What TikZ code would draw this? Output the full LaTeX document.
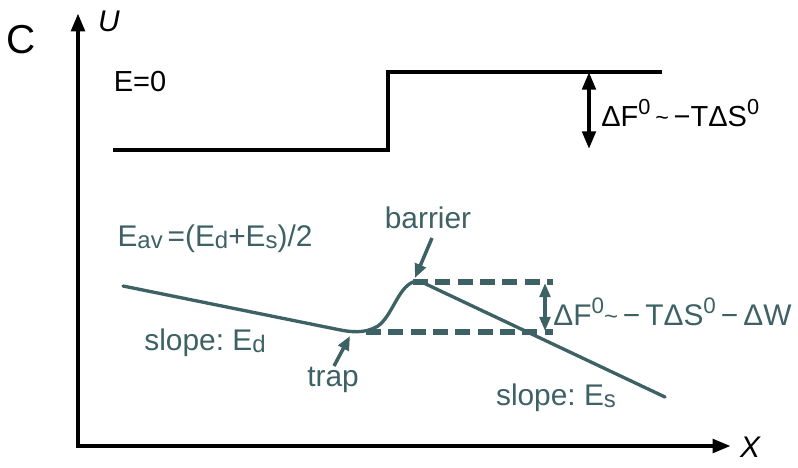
\documentclass[tikz,border=0pt]{standalone}
\usepackage{fontspec}
\usepackage{graphicx}
\setmainfont{Liberation Sans}
\usetikzlibrary{arrows.meta}
\definecolor{curveTeal}{HTML}{3D6165}
\newcommand{\lowidx}[1]{\raisebox{-0.1ex}{\scalebox{0.8}{#1}}}
\newcommand{\upidx}[1]{\raisebox{0.8ex}{\scalebox{0.75}{#1}}}
\newcommand{\approxsym}{\raisebox{0.1ex}{\scalebox{0.8}{\textasciitilde}}}

\begin{document}
\begin{tikzpicture}[
    x=0.02cm, y=-0.02cm,
    axisln/.style   = {line width=2.8pt, -{Triangle[length=10.5pt, width=7.5pt]}},
    levelln/.style  = {line width=2.3pt, line join=miter},
    gapArrowTip/.style = {{Triangle[length=8pt, width=6pt]}-{Triangle[length=8pt, width=6pt]}},
    gapArrow/.style = {line width=2.3pt, {Triangle[length=10pt, width=7.5pt]}-{Triangle[length=10pt, width=7.5pt]}},
    landscape/.style= {curveTeal, line width=1.9pt, line cap=round},
    levelDash/.style= {curveTeal, line width=3pt, dash pattern=on 8.5pt off 4.2pt},
    tealArrow/.style= {curveTeal, line width=1.9pt, gapArrowTip},
    pointer/.style  = {curveTeal, line width=2pt, -{Triangle[length=8pt, width=6.5pt]}},
    axisLbl/.style  = {font=\fontsize{17}{17}\selectfont\itshape, inner sep=0pt},
    panelLbl/.style = {font=\fontsize{23}{23}\selectfont, inner sep=0pt},
    blackLbl/.style = {font=\fontsize{16.5}{16.5}\selectfont, inner sep=0pt},
    tealLbl/.style  = {font=\fontsize{17}{17}\selectfont, text=curveTeal, inner sep=0pt}
  ]
  \useasboundingbox (0,0) rectangle (798,467);

  \coordinate (orig) at (78,446);
  \coordinate (uTip) at (78,13);
  \coordinate (xTip) at (731,446);
  \draw[axisln] (orig) -- (uTip);
  \draw[axisln] ([xshift=-1.4pt]orig) -- (xTip);
  \node[axisLbl] (uLbl) at (109,21) {U};
  \node[axisLbl] (xLbl) at (750,447) {X};
  \node[panelLbl] (panel) at (21,40) {C};

  \coordinate (lowL) at (113,150);
  \coordinate (stepB) at (388,150);
  \coordinate (stepT) at (388,72);
  \coordinate (highR) at (662,72);
  \draw[levelln] (lowL) -- (stepB) -- (stepT) -- (highR);
  \coordinate (gapTop) at (589,72);
  \coordinate (gapBot) at (589,149);
  \draw[gapArrow] (gapTop) -- (gapBot);
  \node[blackLbl] (zeroLbl) at (140,82) {E=0};
  \node[blackLbl, anchor=west] (freeLbl) at (601,113)
    {ΔF\upidx{0}\,\approxsym\,−TΔS\upidx{0}};

  \coordinate (landL) at (123,286);
  \coordinate (trapPt) at (358,332);
  \coordinate (barPt) at (413,282);
  \coordinate (landR) at (665,397);
  \draw[landscape] (landL) -- (338,329.5)
    .. controls (350,332) and (365,334) .. (378,326)
    .. controls (392,316) and (398,288) .. (barPt)
    .. controls (418,280) and (422,282) .. (430,286)
    -- (landR);

  \coordinate (barDashR) at (553,282);
  \coordinate (trapDashL) at (366,332);
  \coordinate (trapDashR) at (553,332);
  \draw[levelDash] (barPt) -- (barDashR);
  \draw[levelDash] (trapDashL) -- (trapDashR);
  \coordinate (dipTop) at (545,283);
  \coordinate (dipBot) at (545,331);
  \draw[tealArrow] (dipTop) -- (dipBot);
  \node[tealLbl, anchor=west] (workLbl) at (553,312)
    {ΔF\upidx{0}\approxsym\,−\,TΔS\upidx{0}\,−\,ΔW};

  \node[tealLbl] (barLbl) at (428,218) {barrier};
  \coordinate (barFrom) at (432,238);
  \draw[pointer] (barFrom) -- ([shift={(2,-4)}]barPt);
  \node[tealLbl] (trapLbl) at (333,380) {trap};
  \coordinate (trapFrom) at (334,366);
  \draw[pointer] (trapFrom) -- (350,336);

  \node[tealLbl] (avLbl) at (215,239)
    {E\lowidx{av}\,=(E\lowidx{d}+E\lowidx{s})/2};
  \node[tealLbl] (slopeD) at (205,343) {slope:\ E\lowidx{d}};
  \node[tealLbl] (slopeS) at (556,398) {slope:\ E\lowidx{s}};
\end{tikzpicture}
\end{document}
